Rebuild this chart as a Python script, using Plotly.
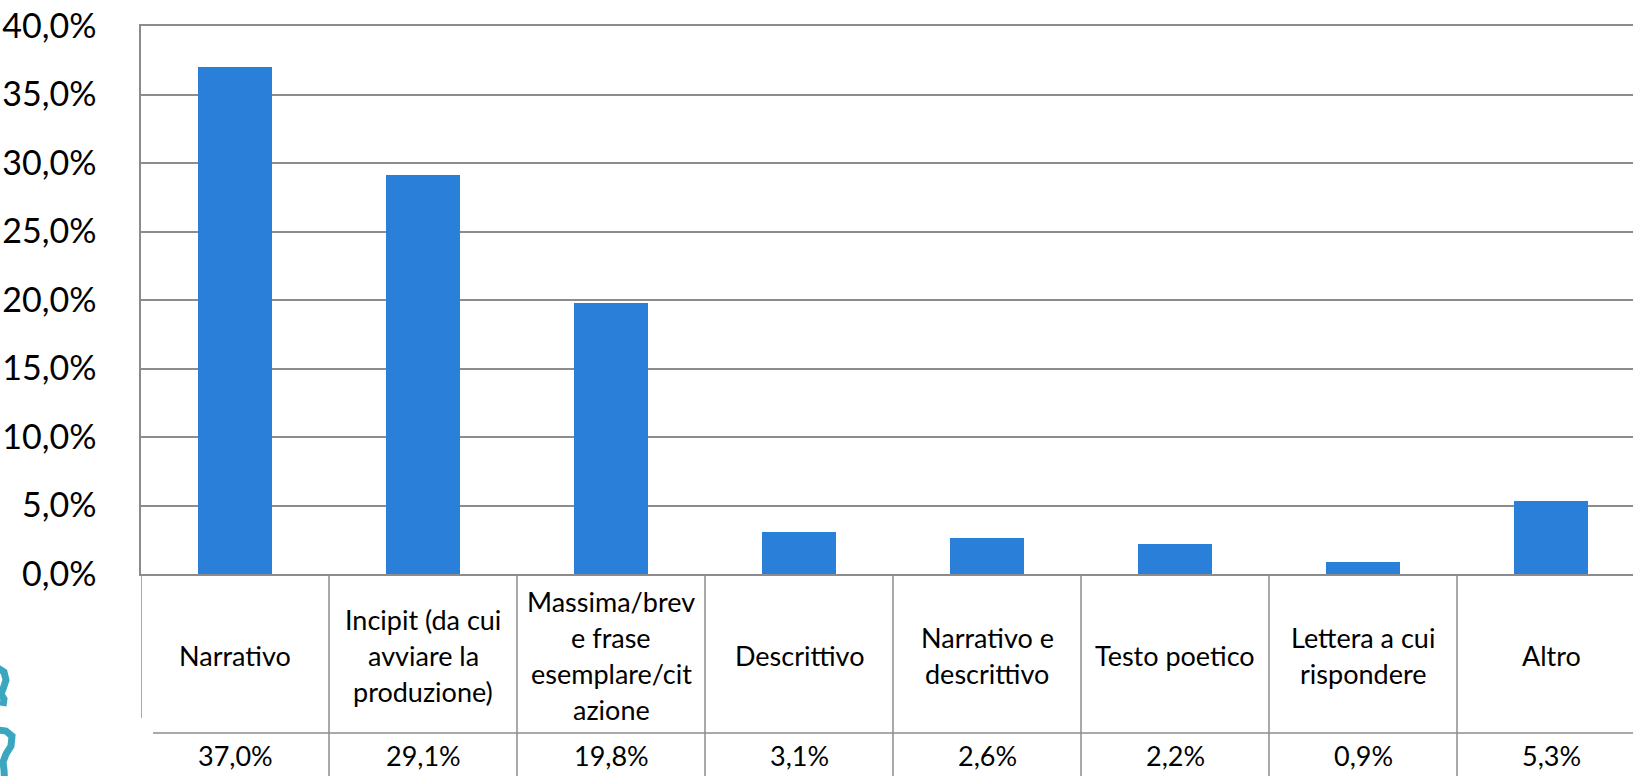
import plotly.graph_objects as go

# ---------------- data ----------------
categories = [
    "Narrativo",
    "Incipit (da cui\navviare la\nproduzione)",
    "Massima/brev\ne frase\nesemplare/cit\nazione",
    "Descrittivo",
    "Narrativo e\ndescrittivo",
    "Testo poetico",
    "Lettera a cui\nrispondere",
    "Altro",
]
values = [37.0, 29.1, 19.8, 3.1, 2.6, 2.2, 0.9, 5.3]
y_ticks = [0, 5, 10, 15, 20, 25, 30, 35, 40]

# ---------------- layout geometry (pixels) ----------------
W, H = 1633, 776
L, T = 141, 26
BOTTOM = 574
COL = 188
plot_w = W - L
plot_h = BOTTOM - T

GRID = "#8c8c8c"
BAR = "#2a7fd8"
FONT = "Lato"


def pyp(p):
    """pixel y -> paper"""
    return (BOTTOM - p) / plot_h


def pxp(p):
    """pixel x -> paper"""
    return (p - L) / plot_w


x = list(range(len(categories)))
xmax = -0.5 + plot_w / COL

fig = go.Figure(
    go.Bar(
        x=x,
        y=[v / 100 for v in values],
        width=0.39,
        marker=dict(color=BAR, line=dict(width=0)),
        hoverinfo="skip",
    )
)

annotations = []
for i, cat in enumerate(categories):
    lines = cat.split("\n")
    n = len(lines)
    for j, line in enumerate(lines):
        yc = 655 + (j - (n - 1) / 2) * 36
        annotations.append(dict(
            x=i, xref="x", y=pyp(yc), yref="paper", yanchor="middle",
            text=line, showarrow=False,
            font=dict(family=FONT, size=27, color="#000000"),
        ))
    annotations.append(dict(
        x=i, xref="x", y=pyp(755), yref="paper", yanchor="middle",
        text=f"{values[i]:.1f}%".replace(".", ","), showarrow=False,
        font=dict(family=FONT, size=27, color="#000000"),
    ))

shapes = []
for k in range(1, len(categories)):
    shapes.append(dict(type="line", xref="x", yref="paper",
                       x0=k - 0.5, x1=k - 0.5, y0=pyp(574), y1=pyp(H + 20),
                       line=dict(color=GRID, width=1.5)))
shapes.append(dict(type="line", xref="x", yref="paper",
                   x0=-0.5, x1=-0.5, y0=pyp(574), y1=pyp(718),
                   line=dict(color=GRID, width=1.5)))
shapes.append(dict(type="line", xref="paper", yref="paper",
                   x0=pxp(153), x1=1.0, y0=pyp(733), y1=pyp(733),
                   line=dict(color=GRID, width=1.5)))

# partial logo at the bottom-left corner
LOGO = "#3aa6c0"


def pth(pts):
    s = "M {} {}".format(pxp(pts[0][0]), pyp(pts[0][1]))
    for a, b in pts[1:]:
        s += " L {} {}".format(pxp(a), pyp(b))
    return s


shapes.append(dict(type="path", xref="paper", yref="paper",
                   path=pth([(-2, 668), (4, 672), (6, 680), (3, 689), (1, 694), (4, 699), (3, 706)]),
                   line=dict(color=LOGO, width=7)))
shapes.append(dict(type="path", xref="paper", yref="paper",
                   path=pth([(-2, 730), (6, 731), (12, 736), (11, 746), (6, 754), (3, 762), (4, 770), (5, 790)]),
                   line=dict(color=LOGO, width=7)))

fig.update_layout(
    width=W, height=H,
    margin=dict(l=L, r=0, t=T, b=H - BOTTOM, pad=0),
    paper_bgcolor="white", plot_bgcolor="white",
    separators=",.",
    showlegend=False,
    bargap=0,
    annotations=annotations,
    shapes=shapes,
    xaxis=dict(range=[-0.5, xmax], showticklabels=False, showgrid=False,
               zeroline=False, showline=True, mirror=True,
               linecolor=GRID, linewidth=1.5, ticks=""),
    yaxis=dict(range=[0, 0.4], tickvals=[t / 100 for t in y_ticks],
               tickformat=".1%", showgrid=True, gridcolor=GRID, gridwidth=1.5,
               zeroline=False, showline=True, linecolor=GRID, linewidth=1.5,
               ticks="", ticklabelstandoff=36,
               tickfont=dict(family=FONT, size=34, color="#000000")),
)

fig.write_html(
    "out.html",
    config={"displayModeBar": False},
    post_script="document.body.style.margin='0';document.body.style.overflow='hidden';",
)
